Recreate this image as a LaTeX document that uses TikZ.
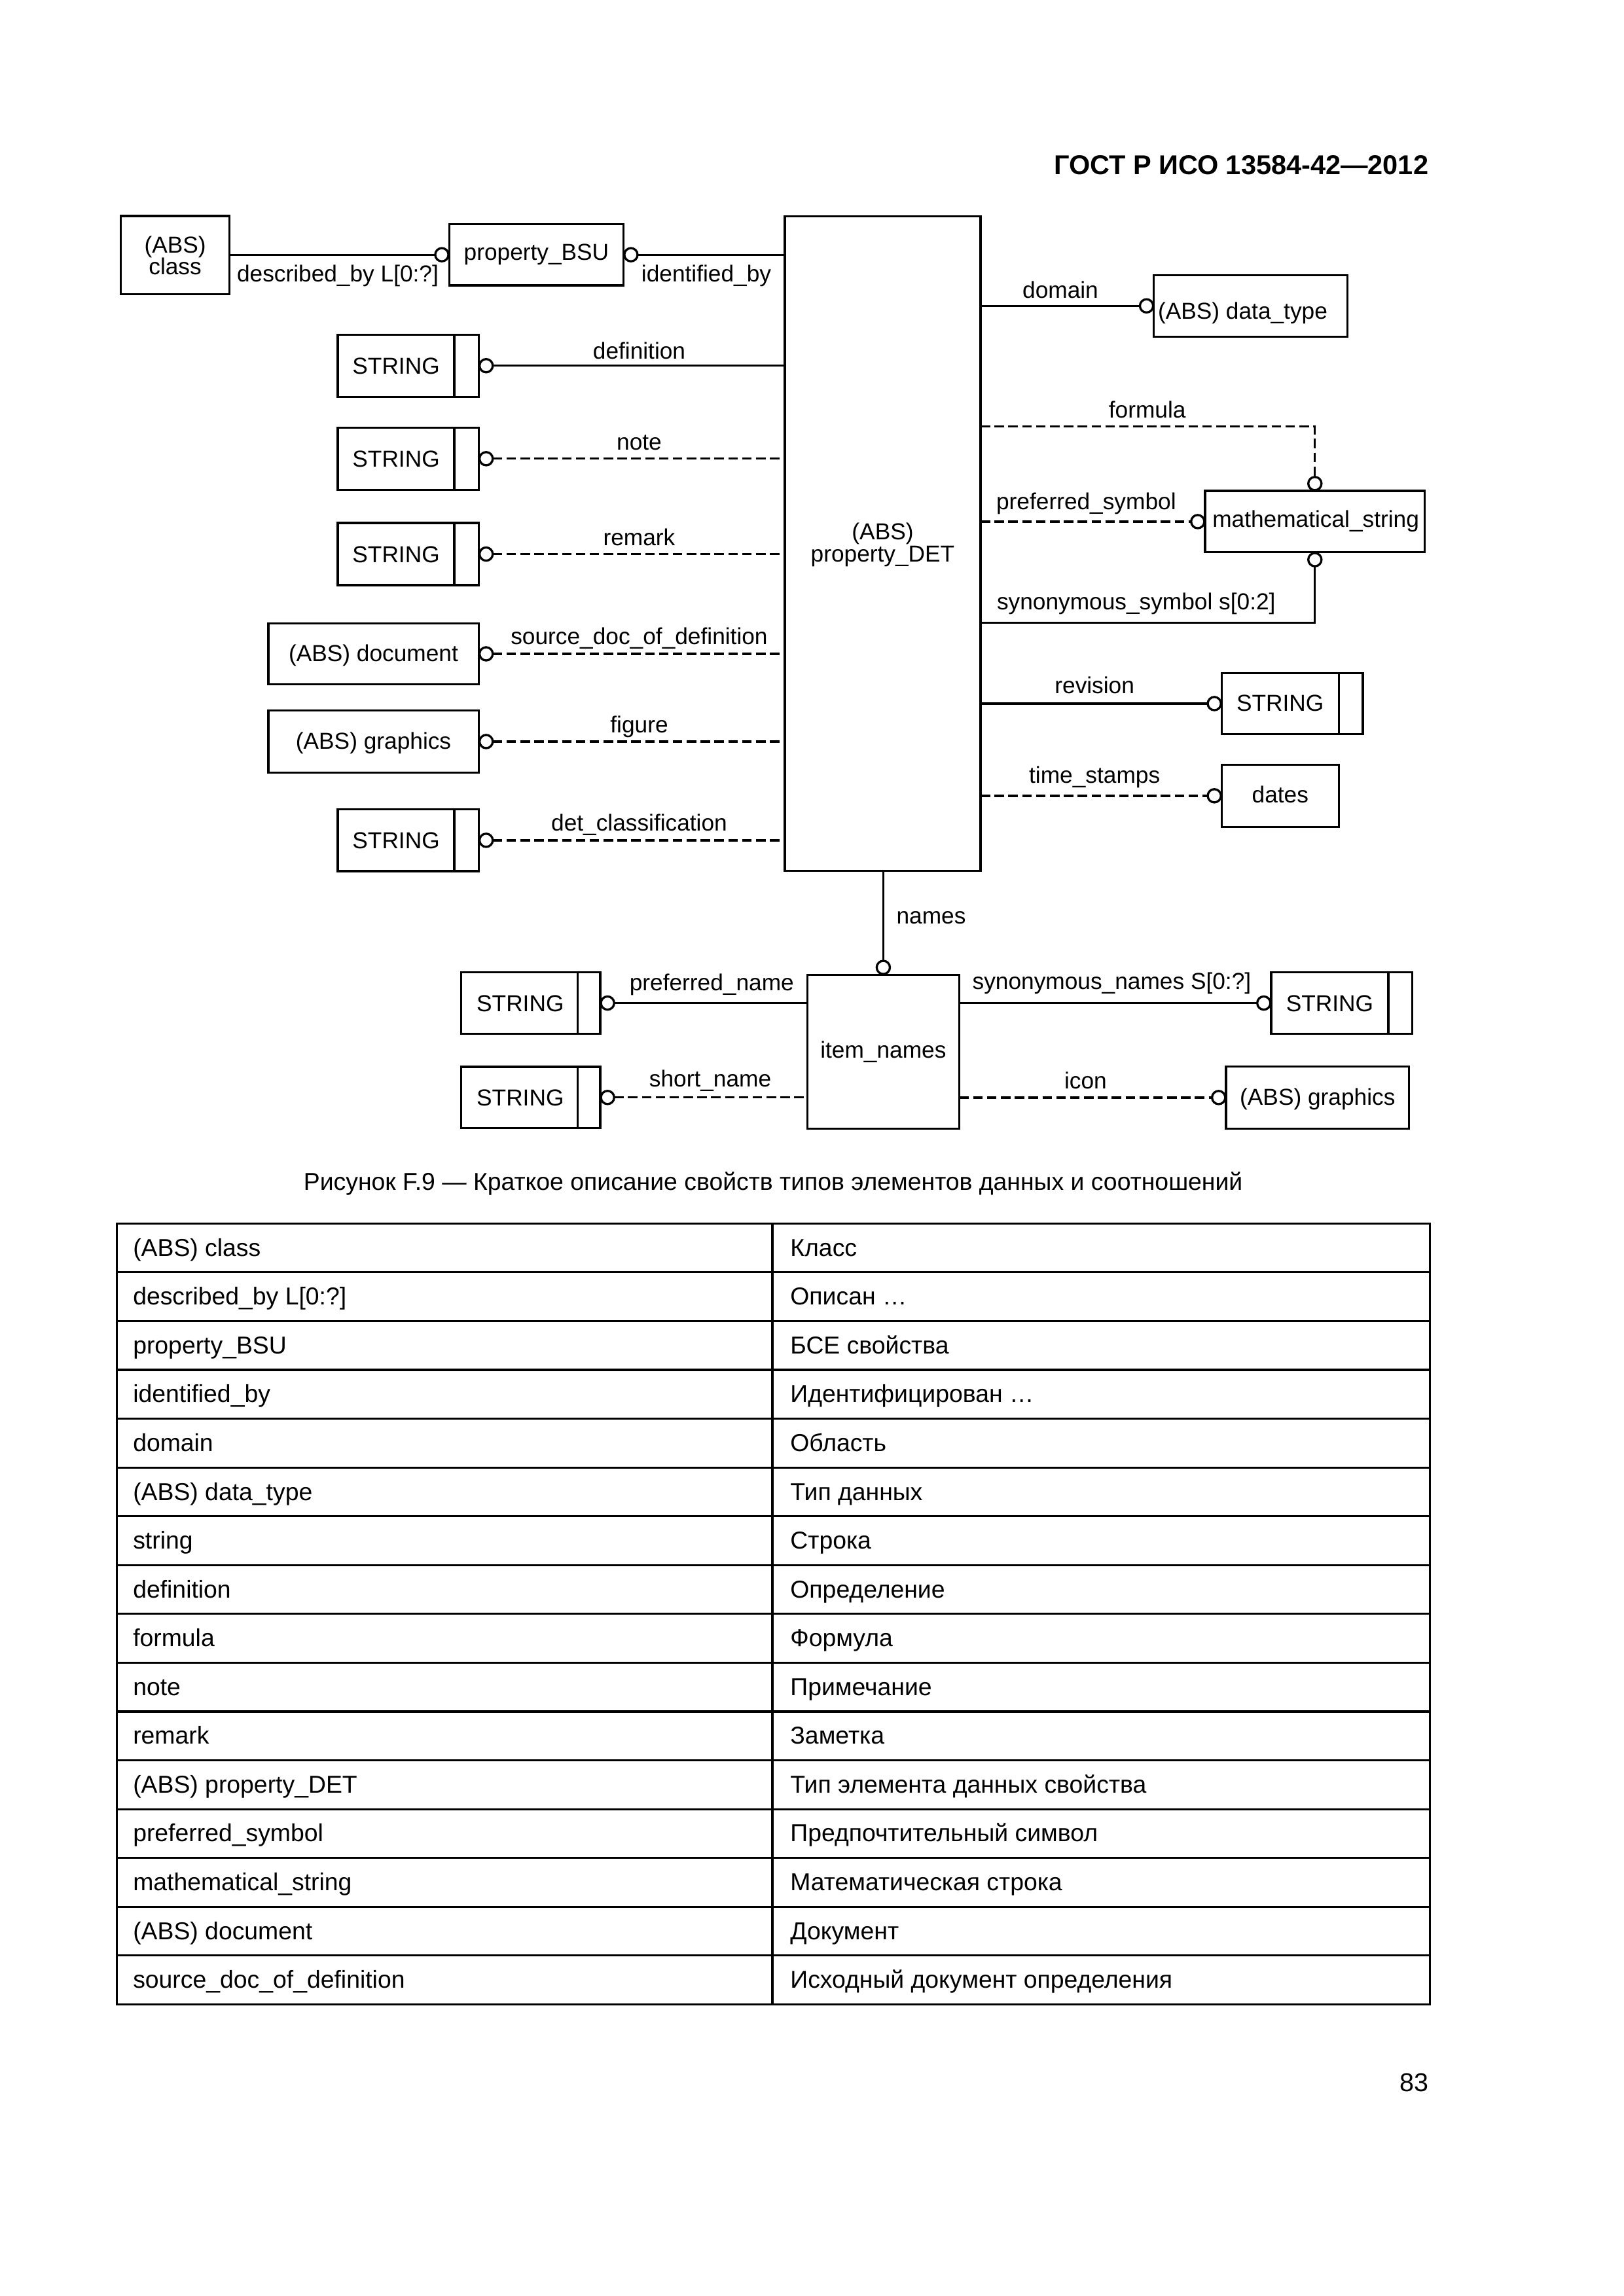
\documentclass[tikz,border=0pt]{standalone}
\usepackage{fontspec}
\setmainfont{Liberation Sans}
\usetikzlibrary{calc}
\def\u{0.19039mm}
\begin{document}
\begin{tikzpicture}[x=0.19039mm,y=-0.19039mm,
  bx/.style={draw, rectangle, line width=0.8pt, inner sep=0pt, outer sep=0pt},
  strbox/.style={bx, path picture={\draw[line width=0.8pt]
     ([xshift=-#1*\u]path picture bounding box.north east) --
     ([xshift=-#1*\u]path picture bounding box.south east);}},
  strbox/.default=16.6,
  circ/.style={draw, circle, fill=white, line width=0.8pt, minimum size=1.71mm, inner sep=0pt, outer sep=0pt},
  ln/.style={line width=0.8pt},
  dsh/.style={line width=0.8pt, dash pattern=on 3.5pt off 1.6pt},
  lbl/.style={font=\fontsize{8.5}{8.3}\selectfont, inner sep=0pt, outer sep=0pt, anchor=base},
  tbl/.style={font=\fontsize{9}{10}\selectfont, inner sep=0pt, outer sep=0pt, anchor=base west},
  tline/.style={line width=0.75pt}
]
\useasboundingbox (0,0) rectangle (1103,1560.2);

% header
\node[font=\bfseries\fontsize{10}{12}\selectfont, anchor=base east, inner sep=0pt] (hdr) at (970.9,118.6) {ГОСТ Р ИСО 13584-42—2012};

% ---- boxes ----
\node[bx, minimum width=73.9*\u, minimum height=53*\u] (cls) at (119.05,173.3) {};
\node[lbl] (tcls1) at (119,171.7) {(ABS)};
\node[lbl] (tcls2) at (119,186.8) {class};

\node[bx, minimum width=118.5*\u, minimum height=41.6*\u] (bsu) at (364.45,173.1) {};
\node[lbl] (tbsu) at (364.45,176.7) {property\_BSU};

\node[bx, minimum width=133.1*\u, minimum height=444.9*\u] (det) at (599.75,369.35) {};
\node[lbl] (tdet1) at (599.75,366.7) {(ABS)};
\node[lbl] (tdet2) at (599.75,382) {property\_DET};

% left column
\node[strbox, minimum width=95.8*\u, minimum height=42.2*\u] (sdef) at (277.4,248.5) {};
\node[lbl] (tsdef) at (269.1,254.3) {STRING};
\node[strbox, minimum width=95.8*\u, minimum height=42.2*\u] (snote) at (277.4,311.7) {};
\node[lbl] (tsnote) at (269.1,317.5) {STRING};
\node[strbox, minimum width=95.8*\u, minimum height=42.2*\u] (srem) at (277.4,376.5) {};
\node[lbl] (tsrem) at (269.1,382.3) {STRING};
\node[bx, minimum width=142.9*\u, minimum height=41.3*\u] (doc) at (253.75,444.3) {};
\node[lbl] (tdoc) at (253.75,449.3) {(ABS) document};
\node[bx, minimum width=142.9*\u, minimum height=42.2*\u] (gra) at (253.75,503.9) {};
\node[lbl] (tgra) at (253.75,508.9) {(ABS) graphics};
\node[strbox, minimum width=95.8*\u, minimum height=42*\u] (sdet) at (277.4,571) {};
\node[lbl] (tsdet) at (269.1,576.8) {STRING};

% right column
\node[bx, minimum width=131.6*\u, minimum height=41.7*\u] (dt) at (849.8,207.85) {};
\node[lbl, anchor=base west] (tdt) at (786.8,216.8) {(ABS) data\_type};
\node[bx, minimum width=149.2*\u, minimum height=41.7*\u] (math) at (893.4,354.45) {};
\node[lbl] (tmath) at (894,358.2) {mathematical\_string};
\node[strbox=16.4, minimum width=95.9*\u, minimum height=41.6*\u] (srev) at (878.05,478.1) {};
\node[lbl] (tsrev) at (869.8,483.3) {STRING};
\node[bx, minimum width=79.5*\u, minimum height=42.3*\u] (dates) at (869.85,540.75) {};
\node[lbl] (tdates) at (869.85,545.6) {dates};

% bottom
\node[bx, minimum width=103.3*\u, minimum height=104.5*\u] (item) at (600.15,714.65) {};
\node[lbl] (titem) at (600.15,719) {item\_names};
\node[strbox=15.4, minimum width=94.5*\u, minimum height=41.6*\u] (spref) at (360.55,681.6) {};
\node[lbl] (tspref) at (353.5,687.2) {STRING};
\node[strbox=15.4, minimum width=94.5*\u, minimum height=41.6*\u] (sshort) at (360.55,745.75) {};
\node[lbl] (tsshort) at (353.5,751.3) {STRING};
\node[strbox=16.3, minimum width=95.9*\u, minimum height=41.6*\u] (ssyn) at (911.65,681.6) {};
\node[lbl] (tssyn) at (903.5,687.2) {STRING};
\node[bx, minimum width=124.4*\u, minimum height=42.2*\u] (igra) at (895.2,745.8) {};
\node[lbl] (tigra) at (895.2,750.8) {(ABS) graphics};

% ---- circles ----
\node[circ] (cbl) at (300.2,173.1) {};
\node[circ] (cbr) at (428.7,173.1) {};
\node[circ] (cdef) at (330.3,248.5) {};
\node[circ] (cnote) at (330.3,311.7) {};
\node[circ] (crem) at (330.3,376.5) {};
\node[circ] (cdoc) at (330.3,444.3) {};
\node[circ] (cgra) at (330.3,503.9) {};
\node[circ] (cdet) at (330.3,571) {};
\node[circ] (cdt) at (779,207.85) {};
\node[circ] (cmt) at (893.4,328.6) {};
\node[circ] (cml) at (813.8,354.45) {};
\node[circ] (cmb) at (893.4,380.3) {};
\node[circ] (crev) at (825.1,478.1) {};
\node[circ] (cdat) at (825.1,540.75) {};
\node[circ] (cnm) at (600.15,657.4) {};
\node[circ] (cpref) at (412.8,681.6) {};
\node[circ] (csh) at (412.8,745.75) {};
\node[circ] (csyn) at (858.7,681.6) {};
\node[circ] (cic) at (828,745.8) {};

\coordinate (fy) at (0,289.9);
\coordinate (sy) at (0,423.3);

% ---- connectors ----
\draw[ln] (cls.east |- cbl) -- (cbl);
\draw[ln] (cbr) -- (det.west |- cbr);
\draw[ln] (cdef) -- (det.west |- cdef);
\draw[dsh] (cnote) -- (det.west |- cnote);
\draw[dsh] (crem) -- (det.west |- crem);
\draw[dsh] (cdoc) -- (det.west |- cdoc);
\draw[dsh] (cgra) -- (det.west |- cgra);
\draw[dsh] (cdet) -- (det.west |- cdet);
\draw[ln] (det.east |- cdt) -- (cdt);
\draw[dsh] (det.east |- fy) -| (cmt);
\draw[dsh] (det.east |- cml) -- (cml);
\draw[ln] (det.east |- sy) -| (cmb);
\draw[ln] (det.east |- crev) -- (crev);
\draw[dsh] (det.east |- cdat) -- (cdat);
\draw[ln] (det.south -| cnm) -- (cnm);
\draw[ln] (cpref) -- (item.west |- cpref);
\draw[dsh] (csh) -- (item.west |- csh);
\draw[ln] (item.east |- csyn) -- (csyn);
\draw[dsh] (item.east |- cic) -- (cic);

% ---- connector labels ----
\node[lbl] (ldesc) at (229.5,191.5) {described\_by L[0:?]};
\node[lbl] (lident) at (479.9,191.5) {identified\_by};
\node[lbl] (ldef) at (434.3,244.1) {definition};
\node[lbl] (lnote) at (434.3,305.9) {note};
\node[lbl] (lrem) at (434.3,370.5) {remark};
\node[lbl] (lsrc) at (434.3,437.7) {source\_doc\_of\_definition};
\node[lbl] (lfig) at (434.3,498.1) {figure};
\node[lbl] (ldetc) at (434.3,564.5) {det\_classification};
\node[lbl] (ldom) at (720.5,202.5) {domain};
\node[lbl] (lform) at (779.5,283.8) {formula};
\node[lbl] (lpsym) at (738,346.3) {preferred\_symbol};
\node[lbl] (lssym) at (772,414.4) {synonymous\_symbol s[0:2]};
\node[lbl] (lrev) at (743.7,471.4) {revision};
\node[lbl] (ltime) at (743.7,532.2) {time\_stamps};
\node[lbl, anchor=base west] (lnames) at (609.1,627.9) {names};
\node[lbl] (lpname) at (483.6,673.1) {preferred\_name};
\node[lbl] (lsname) at (482.6,738.3) {short\_name};
\node[lbl] (lsyn) at (755.4,672.3) {synonymous\_names S[0:?]};
\node[lbl] (licon) at (737.6,739.8) {icon};

% caption
\node[font=\fontsize{9}{11}\selectfont, anchor=base, inner sep=0pt] (cap) at (525.3,808.7) {Рисунок F.9 — Краткое описание свойств типов элементов данных и соотношений};

% ---- table ----
\draw[tline] (79.2,831.4) rectangle (971.4,1361.9);
\draw[tline] (524.8,831.4) -- (524.8,1361.9);
\foreach \k in {1,...,15}{
  \draw[tline] (79.2,831.4+\k*33.16) -- (971.4,831.4+\k*33.16);
}
\foreach \a/\b [count=\i] in {
  {(ABS) class}/{Класс},
  {described\_by L[0:?]}/{Описан …},
  {property\_BSU}/{БСЕ свойства},
  {identified\_by}/{Идентифицирован …},
  {domain}/{Область},
  {(ABS) data\_type}/{Тип данных},
  {string}/{Строка},
  {definition}/{Определение},
  {formula}/{Формула},
  {note}/{Примечание},
  {remark}/{Заметка},
  {(ABS) property\_DET}/{Тип элемента данных свойства},
  {preferred\_symbol}/{Предпочтительный символ},
  {mathematical\_string}/{Математическая строка},
  {(ABS) document}/{Документ},
  {source\_doc\_of\_definition}/{Исходный документ определения}}{
  \pgfmathsetmacro\yy{831.4+(\i-1)*33.16+22.2}
  \node[tbl] (l\i) at (90.4,\yy) {\a};
  \node[tbl] (r\i) at (537,\yy) {\b};
}

% page number
\node[font=\fontsize{9.5}{11}\selectfont, anchor=base east, inner sep=0pt] (pg) at (970.9,1421) {83};
\end{tikzpicture}
\end{document}
